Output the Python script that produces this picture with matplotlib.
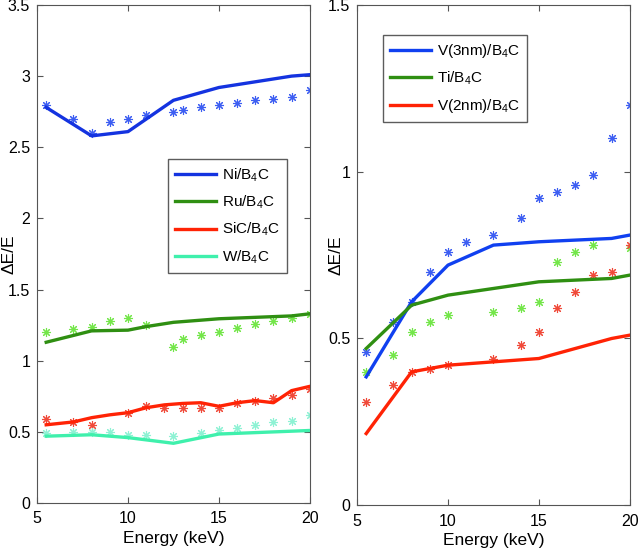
import matplotlib
matplotlib.use("Agg")
from matplotlib import pyplot as plt

plt.rcParams['font.family'] = ['Liberation Sans', 'DejaVu Sans']
plt.rcParams['mathtext.fontset'] = 'custom'
plt.rcParams['mathtext.rm'] = 'Liberation Sans'
plt.rcParams['mathtext.it'] = 'Liberation Sans'

# ---- left panel data ----
ni_line_e = [5.5, 8, 10, 12.5, 15, 19, 20]
ni_line = [2.78, 2.58, 2.61, 2.83, 2.92, 3.00, 3.01]
ni_star_e = [5.5, 7, 8, 9, 10, 11, 12.5, 13, 14, 15, 16, 17, 18, 19, 20]
ni_star = [2.80, 2.70, 2.60, 2.68, 2.70, 2.73, 2.75, 2.76, 2.78, 2.80, 2.81, 2.83, 2.84, 2.85, 2.90]

ru_line_e = [5.5, 8, 10, 11, 12.5, 15, 19, 20]
ru_line = [1.13, 1.21, 1.215, 1.24, 1.27, 1.295, 1.315, 1.33]
ru_star_e = [5.5, 7, 8, 9, 10, 11, 12.5, 13, 14, 15, 16, 17, 18, 19, 20]
ru_star = [1.20, 1.22, 1.24, 1.28, 1.30, 1.25, 1.10, 1.15, 1.18, 1.20, 1.23, 1.26, 1.28, 1.30, 1.33]

sic_line_e = [5.5, 7, 8, 9, 10, 11, 12, 13, 14, 15, 16, 17, 18, 19, 20]
sic_line = [0.55, 0.57, 0.60, 0.62, 0.635, 0.67, 0.69, 0.70, 0.705, 0.68, 0.705, 0.72, 0.705, 0.79, 0.82]
sic_star_e = [5.5, 7, 8, 10, 11, 12, 13, 14, 15, 16, 17, 18, 19, 20]
sic_star = [0.59, 0.57, 0.55, 0.63, 0.68, 0.67, 0.67, 0.67, 0.67, 0.70, 0.72, 0.74, 0.76, 0.80]

w_line_e = [5.5, 8, 10, 12.5, 15, 20]
w_line = [0.47, 0.48, 0.46, 0.42, 0.485, 0.51]
w_star_e = [5.5, 7, 8, 9, 10, 11, 12.5, 14, 15, 16, 17, 18, 19, 20]
w_star = [0.49, 0.50, 0.50, 0.50, 0.48, 0.48, 0.47, 0.49, 0.51, 0.53, 0.55, 0.57, 0.58, 0.62]

# ---- right panel data ----
v3_line_e = [5.5, 8, 10, 12.5, 15, 19, 20]
v3_line = [0.385, 0.61, 0.72, 0.78, 0.79, 0.80, 0.81]
v3_star_e = [5.5, 7, 8, 9, 10, 11, 12.5, 14, 15, 16, 17, 18, 19, 20]
v3_star = [0.46, 0.55, 0.61, 0.70, 0.76, 0.79, 0.81, 0.86, 0.92, 0.94, 0.96, 0.99, 1.10, 1.20]

ti_line_e = [5.5, 8, 10, 12.5, 15, 19, 20]
ti_line = [0.47, 0.60, 0.63, 0.65, 0.67, 0.68, 0.69]
ti_star_e = [5.5, 7, 8, 9, 10, 12.5, 14, 15, 16, 17, 18, 20]
ti_star = [0.40, 0.45, 0.52, 0.55, 0.57, 0.58, 0.59, 0.61, 0.73, 0.76, 0.78, 0.77]

v2_line_e = [5.5, 8, 10, 12.5, 15, 19, 20]
v2_line = [0.215, 0.40, 0.42, 0.43, 0.44, 0.50, 0.51]
v2_star_e = [5.5, 7, 8, 9, 10, 12.5, 14, 15, 16, 17, 18, 19, 20]
v2_star = [0.31, 0.36, 0.40, 0.41, 0.42, 0.44, 0.48, 0.52, 0.59, 0.64, 0.69, 0.70, 0.78]

left_series = [
    ('Ni/B$_4$C', ni_line_e, ni_line, ni_star_e, ni_star, '#1433e0', '#3d5ef2'),
    ('Ru/B$_4$C', ru_line_e, ru_line, ru_star_e, ru_star, '#2f8f12', '#74e64a'),
    ('SiC/B$_4$C', sic_line_e, sic_line, sic_star_e, sic_star, '#ff2305', '#f04a3a'),
    ('W/B$_4$C', w_line_e, w_line, w_star_e, w_star, '#3ff0ac', '#8ef2d4'),
]
right_series = [
    ('V(3nm)/B$_4$C', v3_line_e, v3_line, v3_star_e, v3_star, '#1040f0', '#3d5ef2'),
    ('Ti/B$_4$C', ti_line_e, ti_line, ti_star_e, ti_star, '#2f8f12', '#74e64a'),
    ('V(2nm)/B$_4$C', v2_line_e, v2_line, v2_star_e, v2_star, '#ff2305', '#f04a3a'),
]

star = (8, 2, 0)

fig = plt.figure(figsize=(6.4, 5.51), dpi=100)
ax1 = fig.add_axes([0.058, 0.087, 0.426, 0.904])
ax2 = fig.add_axes([0.558, 0.083, 0.426, 0.908])


def draw(ax, series):
    for label, le, lv, se, sv, lc, sc in series:
        ax.plot(se, sv, linestyle='none', marker=star, markersize=6.5,
                markeredgewidth=0.8, color=sc, zorder=2)
        ax.plot(le, lv, color=lc, linewidth=2.4, label=label, zorder=3)
    ax.set_xlim(5, 20)
    ax.set_xticks([5, 10, 15, 20])
    ax.tick_params(direction='in', top=True, right=True, labelsize=11.5,
                   length=4, color='#555555')
    ax.tick_params(axis='x', pad=6)
    ax.tick_params(axis='y', pad=5)
    for s in ax.spines.values():
        s.set_color('#555555')
    ax.set_xlabel('Energy (keV)', fontsize=12.5, labelpad=3)
    ax.set_ylabel('ΔE/E', fontsize=12.5)


draw(ax1, left_series)
ax1.set_ylim(0, 3.5)
ax1.set_yticks([0, 0.5, 1, 1.5, 2, 2.5, 3, 3.5])
ax1.set_yticklabels(['0', '0.5', '1', '1.5', '2', '2.5', '3', '3.5'])
ax1.yaxis.set_label_coords(-0.075, 0.5)
ax1.legend(loc='upper left', bbox_to_anchor=(0.48, 0.69), fontsize=11,
           frameon=True, fancybox=False, edgecolor='#333333',
           handlelength=2.7, handletextpad=0.4, borderpad=0.45,
           labelspacing=0.65, borderaxespad=0)

draw(ax2, right_series)
ax2.set_ylim(0, 1.5)
ax2.set_yticks([0, 0.5, 1, 1.5])
ax2.set_yticklabels(['0', '0.5', '1', '1.5'])
ax2.yaxis.set_label_coords(-0.05, 0.5)
ax2.legend(loc='upper left', bbox_to_anchor=(0.095, 0.94), fontsize=11,
           frameon=True, fancybox=False, edgecolor='#333333',
           handlelength=2.7, handletextpad=0.4, borderpad=0.45,
           labelspacing=0.65, borderaxespad=0)

fig.savefig('out.png', dpi=100)
